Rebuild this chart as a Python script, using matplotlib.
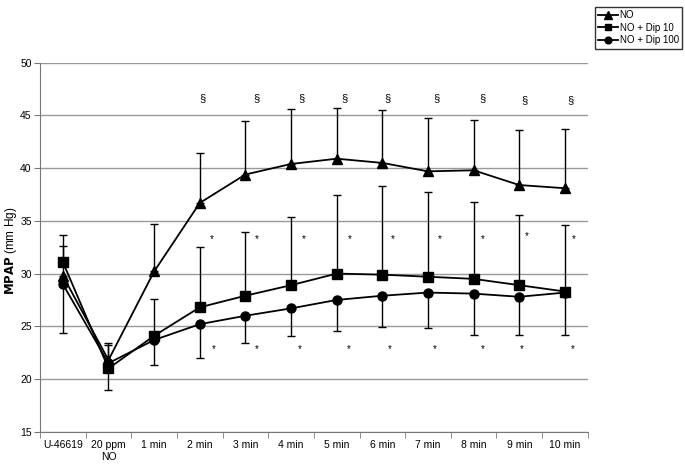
import matplotlib.pyplot as plt
import numpy as np

plt.rcParams['font.family'] = ['Liberation Sans', 'DejaVu Sans']

categories = ["U-46619", "20 ppm\nNO", "1 min", "2 min", "3 min", "4 min",
              "5 min", "6 min", "7 min", "8 min", "9 min", "10 min"]

no_mean = [29.8, 21.8, 30.2, 36.7, 39.4, 40.4, 40.9, 40.5, 39.7, 39.8, 38.4, 38.1]
no_upper = [32.6, 23.2, 34.7, 41.4, 44.5, 45.6, 45.7, 45.5, 44.8, 44.6, 43.6, 43.7]

dip10_mean = [31.1, 21.0, 24.1, 26.8, 27.9, 28.9, 30.0, 29.9, 29.7, 29.5, 28.9, 28.3]
dip10_upper = [33.7, 23.4, 27.6, 32.5, 33.9, 35.4, 37.5, 38.3, 37.7, 36.8, 35.6, 34.6]

dip100_mean = [29.0, 21.5, 23.7, 25.2, 26.0, 26.7, 27.5, 27.9, 28.2, 28.1, 27.8, 28.2]
dip100_lower = [24.4, 19.0, 21.3, 22.0, 23.4, 24.1, 24.6, 24.9, 24.8, 24.2, 24.2, 24.2]

# significance marks (category index + small offset, value)
sect_x = [3.07, 4.24, 5.22, 6.17, 7.11, 8.19, 9.2, 10.12, 11.12]
sect_y = [46.6, 46.6, 46.6, 46.6, 46.6, 46.6, 46.6, 46.5, 46.5]
star_top_x = [3.26, 4.25, 5.28, 6.28, 7.22, 8.25, 9.2, 10.17, 11.2]
star_top_y = [33.3, 33.3, 33.3, 33.3, 33.3, 33.3, 33.3, 33.6, 33.3]
star_bot_x = [3.3, 4.24, 5.2, 6.26, 7.16, 8.15, 9.2, 10.06, 11.18]
star_bot_y = [22.8] * 9

fig = plt.figure(figsize=(6.85, 4.65), dpi=100)
ax = fig.add_axes([0.0584, 0.0716, 0.7996, 0.7934])

x = np.arange(len(categories))

ax.errorbar(x, no_mean, yerr=[np.zeros(len(x)), np.array(no_upper) - np.array(no_mean)],
            fmt='none', ecolor='black', elinewidth=1, capsize=3, capthick=1, zorder=2)
ax.errorbar(x, dip10_mean, yerr=[np.zeros(len(x)), np.array(dip10_upper) - np.array(dip10_mean)],
            fmt='none', ecolor='black', elinewidth=1, capsize=3, capthick=1, zorder=2)
ax.errorbar(x, dip100_mean, yerr=[np.array(dip100_mean) - np.array(dip100_lower), np.zeros(len(x))],
            fmt='none', ecolor='black', elinewidth=1, capsize=3, capthick=1, zorder=2)

ax.plot(x, no_mean, '-^', color='black', lw=1.3, ms=7, label='NO', zorder=3)
ax.plot(x, dip10_mean, '-s', color='black', lw=1.3, ms=6.5, label='NO + Dip 10', zorder=3)
ax.plot(x, dip100_mean, '-o', color='black', lw=1.3, ms=6.5, label='NO + Dip 100', zorder=3)

for xs, ys in zip(sect_x, sect_y):
    ax.text(xs, ys, '§', ha='center', va='center', fontsize=8)
for xs, ys in zip(star_top_x, star_top_y):
    ax.text(xs, ys, '*', ha='center', va='center', fontsize=7)
for xs, ys in zip(star_bot_x, star_bot_y):
    ax.text(xs, ys, '*', ha='center', va='center', fontsize=7)

ax.set_xlim(-0.5, len(categories) - 0.5)
ax.set_ylim(15, 50)
ax.set_yticks(np.arange(15, 51, 5))
ax.yaxis.grid(True, color='#999999', lw=1)
ax.set_axisbelow(True)

ax.set_xticks(x)
ax.set_xticklabels(categories, fontsize=7.5)
ax.tick_params(axis='x', length=0, pad=6)
ax.set_xticks(np.arange(-0.5, len(categories), 1), minor=True)
ax.tick_params(axis='x', which='minor', length=4, color='#777777')
ax.tick_params(axis='y', labelsize=7.5, length=4, pad=2, color='#777777')

for s in ['top', 'right']:
    ax.spines[s].set_visible(False)
ax.spines['left'].set_color('#777777')
ax.spines['bottom'].set_color('#777777')

ax.set_ylabel(r'$\bf{MPAP}$ (mm Hg)', fontsize=8.5)
ax.yaxis.set_label_coords(-0.038, 0.49)

fig.legend(loc='upper right', bbox_to_anchor=(0.996, 0.985), fontsize=7,
           frameon=True, fancybox=False, edgecolor='black', handlelength=2.0,
           handletextpad=0.2, borderpad=0.35, labelspacing=0.25, markerscale=0.75,
           borderaxespad=0)

plt.savefig('out.png', dpi=100)
